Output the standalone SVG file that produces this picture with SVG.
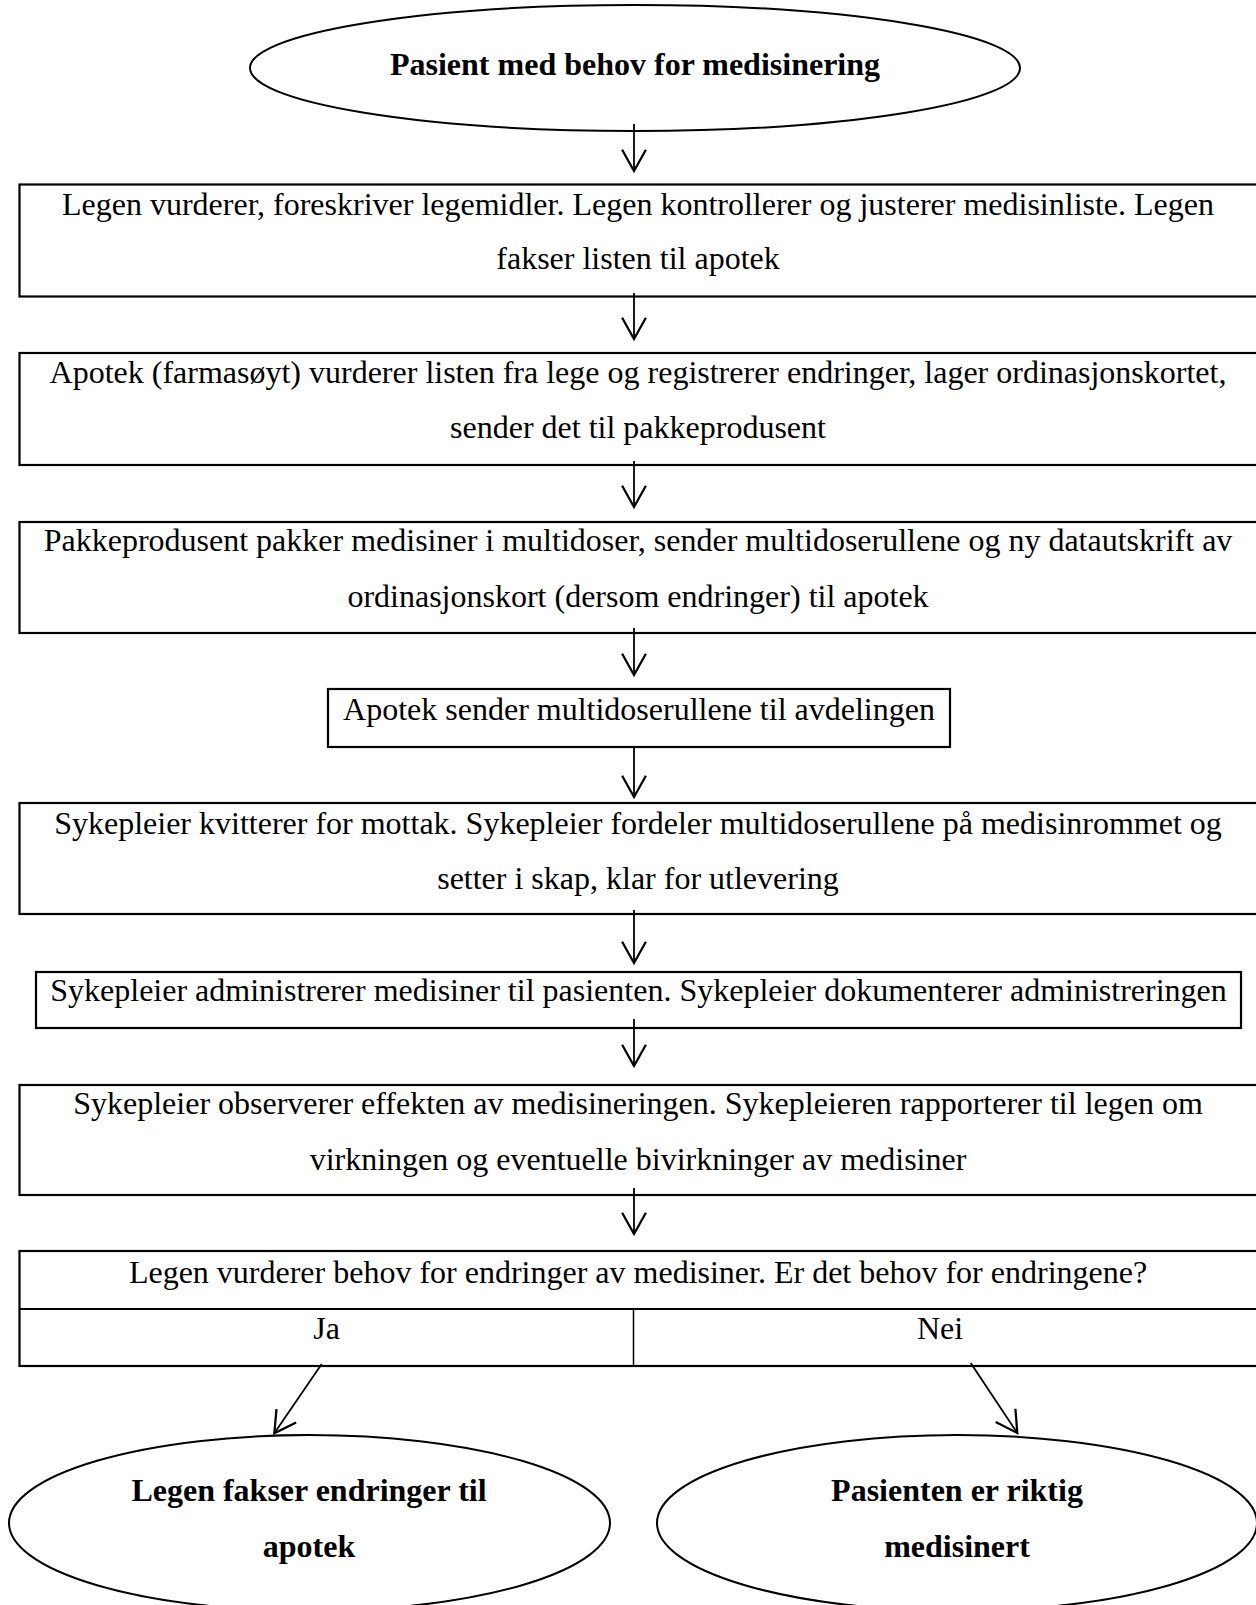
<svg xmlns="http://www.w3.org/2000/svg" width="1256" height="1605" viewBox="0 0 1256 1605">
<style>
.box{fill:#fff;stroke:#000;stroke-width:2.2}
.ell{fill:#fff;stroke:#000;stroke-width:2}
.t{font-family:"Liberation Serif","Times New Roman",serif;font-size:32px;fill:#000;text-anchor:middle}
.b{font-weight:bold}
.c{fill:none;stroke:#000;stroke-width:1.8}
.ah{fill:none;stroke:#000;stroke-width:1.8;stroke-linejoin:miter}
</style>
<defs>
<marker id="arr" markerUnits="userSpaceOnUse" markerWidth="30" markerHeight="30" viewBox="-20 -12 22 24" refX="0" refY="0" orient="auto">
<path d="M-17,-9.5 L0,0 L-17,9.5" class="ah"/>
</marker>
</defs>
<rect width="1256" height="1605" fill="#fff"/>

<g id="n-start">
<ellipse class="ell" cx="635" cy="68" rx="385" ry="63"/>
<text class="t b" x="635" y="75">Pasient med behov for medisinering</text>
</g>

<g id="n-lege">
<rect class="box" x="19.5" y="184.5" width="1240" height="112"/>
<text class="t" x="638" y="215">Legen vurderer, foreskriver legemidler. Legen kontrollerer og justerer medisinliste. Legen</text>
<text class="t" x="638" y="269">fakser listen til apotek</text>
</g>

<g id="n-apotek">
<rect class="box" x="19.5" y="353" width="1240" height="112"/>
<text class="t" x="638" y="383">Apotek (farmasøyt) vurderer listen fra lege og registrerer endringer, lager ordinasjonskortet,</text>
<text class="t" x="638" y="438">sender det til pakkeprodusent</text>
</g>

<g id="n-pakke">
<rect class="box" x="19.5" y="522" width="1240" height="111"/>
<text class="t" x="638" y="551">Pakkeprodusent pakker medisiner i multidoser, sender multidoserullene og ny datautskrift av</text>
<text class="t" x="638" y="607">ordinasjonskort (dersom endringer) til apotek</text>
</g>

<g id="n-sender">
<rect class="box" x="328" y="689" width="622" height="58"/>
<text class="t" x="639" y="720">Apotek sender multidoserullene til avdelingen</text>
</g>

<g id="n-kvitterer">
<rect class="box" x="19.5" y="803" width="1240" height="111"/>
<text class="t" x="638" y="834">Sykepleier kvitterer for mottak. Sykepleier fordeler multidoserullene på medisinrommet og</text>
<text class="t" x="638" y="889">setter i skap, klar for utlevering</text>
</g>

<g id="n-administrerer">
<rect class="box" x="36" y="972" width="1205" height="56"/>
<text class="t" x="638.5" y="1001">Sykepleier administrerer medisiner til pasienten. Sykepleier dokumenterer administreringen</text>
</g>

<g id="n-observerer">
<rect class="box" x="19.5" y="1085" width="1240" height="110"/>
<text class="t" x="638" y="1114">Sykepleier observerer effekten av medisineringen. Sykepleieren rapporterer til legen om</text>
<text class="t" x="638" y="1170">virkningen og eventuelle bivirkninger av medisiner</text>
</g>

<g id="n-vurderer">
<rect class="box" x="19.5" y="1251" width="1240" height="115"/>
<line x1="19.5" y1="1309" x2="1259.5" y2="1309" stroke="#000" stroke-width="2.2"/>
<line x1="633.5" y1="1309" x2="633.5" y2="1366" stroke="#000" stroke-width="1.5"/>
<text class="t" x="638" y="1283">Legen vurderer behov for endringer av medisiner. Er det behov for endringene?</text>
<text class="t" x="326.5" y="1339">Ja</text>
<text class="t" x="940" y="1339">Nei</text>
</g>

<g id="n-fakser">
<ellipse class="ell" cx="309.5" cy="1523" rx="300.5" ry="88"/>
<text class="t b" x="309" y="1501">Legen fakser endringer til</text>
<text class="t b" x="309" y="1557">apotek</text>
</g>

<g id="n-riktig">
<ellipse class="ell" cx="957" cy="1523" rx="300" ry="88"/>
<text class="t b" x="957" y="1501">Pasienten er riktig</text>
<text class="t b" x="957" y="1557">medisinert</text>
</g>

<g id="connectors">
<line class="c" x1="634" y1="124" x2="634" y2="171" marker-end="url(#arr)"/>
<line class="c" x1="634" y1="293" x2="634" y2="339" marker-end="url(#arr)"/>
<line class="c" x1="634" y1="461" x2="634" y2="507" marker-end="url(#arr)"/>
<line class="c" x1="634" y1="628" x2="634" y2="675" marker-end="url(#arr)"/>
<line class="c" x1="634" y1="747" x2="634" y2="797" marker-end="url(#arr)"/>
<line class="c" x1="634" y1="910" x2="634" y2="963" marker-end="url(#arr)"/>
<line class="c" x1="634" y1="1019" x2="634" y2="1066" marker-end="url(#arr)"/>
<line class="c" x1="634" y1="1188" x2="634" y2="1234" marker-end="url(#arr)"/>
<line class="c" x1="321.7" y1="1364" x2="274.3" y2="1433.3" marker-end="url(#arr)"/>
<line class="c" x1="970.7" y1="1363" x2="1017.3" y2="1433" marker-end="url(#arr)"/>
</g>
</svg>
